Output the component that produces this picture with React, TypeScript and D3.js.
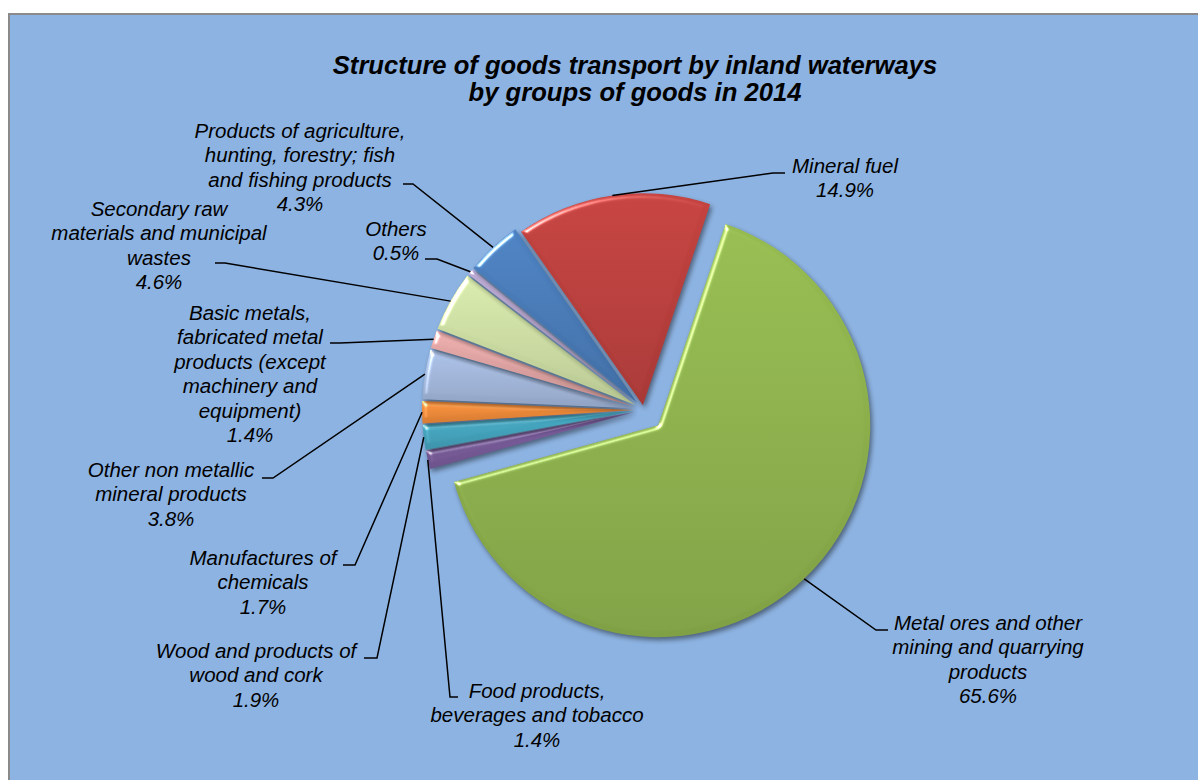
import React from "react";
import * as d3 from "d3";

const categories = [
  "Metal ores and other mining and quarrying products",
  "Food products, beverages and tobacco",
  "Wood and products of wood and cork",
  "Manufactures of chemicals",
  "Other non metallic mineral products",
  "Basic metals, fabricated metal products (except machinery and equipment)",
  "Secondary raw materials and municipal wastes",
  "Others",
  "Products of agriculture, hunting, forestry; fish and fishing products",
  "Mineral fuel",
];
const values = [65.6, 1.4, 1.9, 1.7, 3.8, 1.4, 4.6, 0.5, 4.3, 14.9];
const labelLines = [
  ["Metal ores and other", "mining and quarrying", "products"],
  ["Food products,", "beverages and tobacco"],
  ["Wood and products of", "wood and cork"],
  ["Manufactures of", "chemicals"],
  ["Other non metallic", "mineral products"],
  ["Basic metals,", "fabricated metal", "products (except", "machinery and", "equipment)"],
  ["Secondary raw", "materials and municipal", "wastes"],
  ["Others"],
  ["Products of agriculture,", "hunting, forestry; fish", "and fishing products"],
  ["Mineral fuel"],
];
const titleLines = [
  "Structure of goods transport by inland waterways",
  "by groups of goods in 2014",
];

// styles / layout
const colors = [
  "#91B54E", "#7B5E9E", "#45A8C2", "#F28C3A", "#A4B9DE",
  "#E3A6A5", "#D0E2A6", "#B6A6CE", "#4A7DBB", "#BE413E",
];
const explodeFrac = [0.1, 0.045, 0.045, 0.045, 0.045, 0.045, 0.045, 0.045, 0.045, 0.022];
// label block: center x, first baseline y, tick: text-side x, elbow x, y
const labelLayout = [
  { cx: 988, y: 630, tx: 888, ex: 876, ty: 630 },
  { cx: 537, y: 698, tx: 458, ex: 450, ty: 697 },
  { cx: 256, y: 658, tx: 364, ex: 377, ty: 658 },
  { cx: 263, y: 565, tx: 343, ex: 355, ty: 565 },
  { cx: 171, y: 477, tx: 262, ex: 273, ty: 478 },
  { cx: 250, y: 320, tx: 330, ex: 340, ty: 343 },
  { cx: 159, y: 216, tx: 215, ex: 225, ty: 263 },
  { cx: 396, y: 236, tx: 425, ex: 437, ty: 259 },
  { cx: 300, y: 138, tx: 403, ex: 413, ty: 184 },
  { cx: 845, y: 173, tx: 785, ex: 773, ty: 173 },
];

const W = 1198;
const H = 780;
const cx = 643.6;
const cy = 409.8;
const R = 212;
const startDeg = 18.5;
const lineH = 24.4;

export default function App() {
  const pie = d3
    .pie<number>()
    .sort(null)
    .value((d) => d)
    .startAngle((startDeg * Math.PI) / 180)
    .endAngle((startDeg * Math.PI) / 180 + 2 * Math.PI);
  const arcs = pie(values);
  const arcGen = d3.arc<d3.PieArcDatum<number>>().innerRadius(0).outerRadius(R);
  const fmt = d3.format(".1f");

  const slices = arcs.map((a, i) => {
    const mid = (a.startAngle + a.endAngle) / 2;
    const e = explodeFrac[i] * R;
    const dx = Math.sin(mid) * e;
    const dy = -Math.cos(mid) * e;
    const ax = cx + Math.sin(mid) * (e + R);
    const ay = cy - Math.cos(mid) * (e + R);
    return { a, i, dx, dy, ax, ay };
  });

  return (
    <svg
      width={W}
      height={H}
      style={{ position: "absolute", left: 0, top: 0, background: "#fff" }}
      fontFamily="'Liberation Sans', Arial, sans-serif"
    >
      <defs>
        {colors.map((c, i) => {
          const top = d3.color(c)!.brighter(0.1).formatHex();
          const bot = d3.color(c)!.darker(0.35).formatHex();
          return (
            <linearGradient key={i} id={`g${i}`} x1="0" y1="0" x2="0" y2="1">
              <stop offset="0" stopColor={top} />
              <stop offset="1" stopColor={bot} />
            </linearGradient>
          );
        })}
        <filter id="bevel" x="-20%" y="-20%" width="140%" height="140%" colorInterpolationFilters="sRGB">
          <feGaussianBlur in="SourceAlpha" stdDeviation="2.5" result="blur" />
          <feSpecularLighting in="blur" surfaceScale="3" specularConstant="0.8" specularExponent="35" lightingColor="#ffffff" result="spec">
            <feDistantLight azimuth="225" elevation="35" />
          </feSpecularLighting>
          <feComposite in="spec" in2="SourceAlpha" operator="in" result="specIn" />
          <feComposite in="SourceGraphic" in2="specIn" operator="arithmetic" k1="0" k2="1" k3="1" k4="0" result="lit" />
          <feGaussianBlur in="SourceAlpha" stdDeviation="2.5" result="sh" />
          <feOffset in="sh" dx="2" dy="3" result="sho" />
          <feComponentTransfer in="sho" result="shadow">
            <feFuncA type="linear" slope="0.45" />
          </feComponentTransfer>
          <feMerge>
            <feMergeNode in="shadow" />
            <feMergeNode in="lit" />
          </feMerge>
        </filter>
      </defs>
      <rect x={9} y={14} width={W} height={H} fill="#8DB3E2" stroke="#8a8a8a" strokeWidth={2} />

      {titleLines.map((t, i) => (
        <text
          key={i}
          x={635}
          y={74 + i * 27}
          textAnchor="middle"
          fontSize={25.6}
          fontWeight="bold"
          fontStyle="italic"
          fill="#000"
        >
          {t}
        </text>
      ))}

      <g>
        {slices.map((s) => (
          <path
            key={s.i}
            d={arcGen(s.a) || ""}
            transform={`translate(${cx + s.dx},${cy + s.dy})`}
            fill={`url(#g${s.i})`}
            filter="url(#bevel)"
          />
        ))}
      </g>

      <g fill="none" stroke="#000" strokeWidth={1.5}>
        {slices.map((s) => {
          const L = labelLayout[s.i];
          return (
            <polyline
              key={s.i}
              points={`${s.ax},${s.ay} ${L.ex},${L.ty} ${L.tx},${L.ty}`}
            />
          );
        })}
      </g>

      <g fontSize={20.5} fontStyle="italic" fill="#000" textAnchor="middle">
        {slices.map((s) => {
          const L = labelLayout[s.i];
          const lines = [...labelLines[s.i], `${fmt(values[s.i])}%`];
          return (
            <text key={s.i} x={L.cx} y={L.y}>
              {lines.map((ln, j) => (
                <tspan key={j} x={L.cx} y={L.y + j * lineH}>
                  {ln}
                </tspan>
              ))}
            </text>
          );
        })}
      </g>
    </svg>
  );
}
